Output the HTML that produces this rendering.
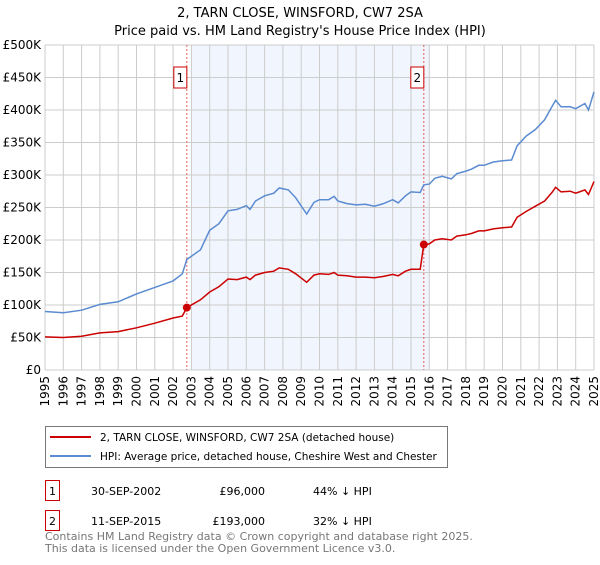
<!DOCTYPE html>
<html><head><meta charset="utf-8"><style>
body{margin:0;background:#fff;font-family:"Liberation Sans","DejaVu Sans",sans-serif;}
svg text{font-family:"DejaVu Sans","Liberation Sans",sans-serif;}
</style></head><body>
<svg id="c" width="600" height="560" xmlns="http://www.w3.org/2000/svg">
<text x="300" y="17" text-anchor="middle" font-size="13">2, TARN CLOSE, WINSFORD, CW7 2SA</text>
<text x="300" y="35" text-anchor="middle" font-size="13">Price paid vs. HM Land Registry's House Price Index (HPI)</text>
<g id="plot"></g>
<g>
<rect x="45.5" y="426.5" width="402" height="41" fill="#fff" stroke="#777"/>
<line x1="50" y1="437" x2="91" y2="437" stroke="#cc0000" stroke-width="2"/>
<text x="100" y="441" font-size="10.5">2, TARN CLOSE, WINSFORD, CW7 2SA (detached house)</text>
<line x1="50" y1="456" x2="91" y2="456" stroke="#5b8bd0" stroke-width="2"/>
<text x="100" y="460" font-size="10.5">HPI: Average price, detached house, Cheshire West and Chester</text>
</g>
<g font-size="11">
<rect x="45.5" y="480.5" width="14" height="20" fill="#fff" stroke="#cc0000"/><text x="52.5" y="495" text-anchor="middle">1</text>
<text x="91" y="495">30-SEP-2002</text><text x="265" y="495" text-anchor="end">£96,000</text><text x="313" y="495">44% ↓ HPI</text>
<rect x="45.5" y="510.5" width="14" height="20" fill="#fff" stroke="#cc0000"/><text x="52.5" y="525" text-anchor="middle">2</text>
<text x="91" y="525">11-SEP-2015</text><text x="265" y="525" text-anchor="end">£193,000</text><text x="313" y="525">32% ↓ HPI</text>
</g>
<text x="45" y="540" font-size="11" fill="#777">Contains HM Land Registry data © Crown copyright and database right 2025.</text>
<text x="45" y="552" font-size="11" fill="#777">This data is licensed under the Open Government Licence v3.0.</text>
</svg>
<script>
const times=[1995,1996,1997,1998,1999,2000,2001,2002,2002.5,2002.75,2003.5,2004,2004.5,2005,2005.5,2006,2006.2,2006.5,2007,2007.5,2007.8,2008.3,2008.7,2009.3,2009.7,2010,2010.5,2010.8,2011,2011.5,2012,2012.5,2013,2013.5,2014,2014.3,2014.7,2015,2015.5,2015.7,2016,2016.3,2016.7,2017.2,2017.5,2018,2018.3,2018.7,2019,2019.5,2020,2020.5,2020.8,2021.3,2021.8,2022.3,2022.7,2022.9,2023.2,2023.7,2024,2024.5,2024.7,2025];
const hpi=[90,88,92,101,105,117,127,137,148,170,185,215,225,245,247,253,247,260,268,272,280,277,265,240,258,262,262,267,260,256,254,255,252,256,262,257,268,274,273,285,286,295,298,294,302,306,309,315,315,320,322,323,345,360,370,385,405,415,405,405,402,410,400,428];
const price=[51,50,52,57,59,65,72,80,83,96,108,120,128,140,139,143,139,146,150,152,157,155,148,135,146,148,147,150,146,145,143,143,142,144,147,145,152,155,155,193,194,200,202,200,206,208,210,214,214,217,219,220,235,244,252,260,273,281,274,275,272,277,270,290];
const yTicks=[0,50,100,150,200,250,300,350,400,450,500];
const yTickLabels=["£0","£50K","£100K","£150K","£200K","£250K","£300K","£350K","£400K","£450K","£500K"];
const years=[1995,1996,1997,1998,1999,2000,2001,2002,2003,2004,2005,2006,2007,2008,2009,2010,2011,2012,2013,2014,2015,2016,2017,2018,2019,2020,2021,2022,2023,2024,2025];
const saleTimes=[2002.75,2015.7];
const saleValues=[96,193];
const saleLabels=["1","2"];
const shadeRange=[2003,2016];

const L=45,R=594,T=45,B=370;
const x=t=>L+(t-1995)/30*(R-L);
const y=v=>B-v/500*(B-T);
const NS="http://www.w3.org/2000/svg";
const g=document.getElementById('plot');
function mk(tag,attrs){const e=document.createElementNS(NS,tag);for(const k in attrs)e.setAttribute(k,attrs[k]);g.appendChild(e);return e;}
let e=mk('rect',{x:x(shadeRange[0]),y:T,width:x(shadeRange[1])-x(shadeRange[0]),height:B-T,fill:'#eef3fc',opacity:0.8});


years.forEach(yr=>{const l=mk('line',{x1:x(yr),x2:x(yr),y1:T,y2:B,stroke:'#ccc','stroke-width':1});


const tx=mk('text',{x:0,y:0,'font-size':12,'text-anchor':'end',transform:`translate(${x(yr)+4},${B+6}) rotate(-90)`});tx.textContent=yr;

});
yTicks.forEach((v,i)=>{const l=mk('line',{x1:L,x2:R,y1:y(v),y2:y(v),stroke:'#ccc','stroke-width':1});


const tx=mk('text',{x:L-4,y:y(v)+4,'font-size':12,'text-anchor':'end'});tx.textContent=yTickLabels[i];

});
saleTimes.forEach((t,i)=>{const l=mk('line',{x1:x(t),x2:x(t),y1:T,y2:B,stroke:'#e06060','stroke-dasharray':'2,2','stroke-width':1});


const r=mk('rect',{x:x(t)-13,y:67,width:13,height:21,fill:'#fff',stroke:'#cc0000'});


const tx=mk('text',{x:x(t)-6.5,y:82,'font-size':12,'text-anchor':'middle'});tx.textContent=saleLabels[i];

});
const pts=a=>a.map((v,i)=>x(times[i]).toFixed(1)+','+y(v).toFixed(1)).join(' ');
let p=mk('polyline',{points:pts(hpi),fill:'none',stroke:'#5b8bd0','stroke-width':1.5});


p=mk('polyline',{points:pts(price),fill:'none',stroke:'#cc0000','stroke-width':1.5});


saleTimes.forEach((t,i)=>{const c=mk('circle',{cx:x(t),cy:y(saleValues[i]),r:4,fill:'#cc0000'});

});
</script>
</body></html>
